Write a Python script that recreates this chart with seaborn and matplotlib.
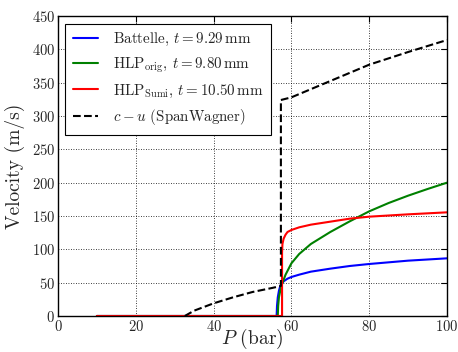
import matplotlib

matplotlib.use("Agg")
import matplotlib.pyplot as plt
import seaborn as sns

# Battelle
p_battelle = [10, 56.2, 56.3, 56.5, 56.8, 57.2, 58, 59, 60, 62, 65, 70, 75, 80, 90, 100]
v_battelle = [0, 0, 15, 28, 38, 46, 52, 56, 58.5, 62, 66.5, 71, 75, 78, 83, 86.5]

# HLP orig
p_orig = [10, 56.5, 56.6, 56.8, 57.2, 57.6, 58.5, 60, 62, 65, 70, 75, 80, 85, 90, 95, 100]
v_orig = [0, 0, 15, 28, 40, 48, 62, 79, 93, 108, 126, 142, 157, 169.5, 180.5, 190.5, 200]

# HLP Sumi
p_sumi = [10, 57.6, 57.6, 57.7, 58, 58.5, 59, 60, 62, 65, 70, 75, 80, 90, 100]
v_sumi = [0, 0, 95, 108, 116, 122, 126, 129, 133, 137, 141.5, 146, 149, 152.5, 155.5]

# c - u (SpanWagner)
p_cu = [32.6, 35, 40, 45, 50, 55, 57.3, 57.3, 60, 70, 80, 90, 100]
v_cu = [0, 8, 19, 28, 36, 42, 45, 324, 328, 352.5, 377, 396, 414]

series = [
    (p_battelle, v_battelle, r"Battelle, $t = 9.29\,\mathrm{mm}$", "b", "-"),
    (p_orig, v_orig, r"HLP$_\mathrm{orig}$, $t = 9.80\,\mathrm{mm}$", "g", "-"),
    (p_sumi, v_sumi, r"HLP$_\mathrm{Sumi}$, $t = 10.50\,\mathrm{mm}$", "r", "-"),
    (p_cu, v_cu, r"$c - u$ (SpanWagner)", "k", "--"),
]

sns.set_style("white")
plt.rcParams["font.family"] = ["cmr10"]
plt.rcParams["mathtext.fontset"] = "cm"
plt.rcParams["axes.unicode_minus"] = False
plt.rcParams["axes.formatter.use_mathtext"] = True

fig = plt.figure(figsize=(4.58, 3.52), dpi=100)
ax = fig.add_axes([0.1266, 0.1023, 0.8494, 0.8522])

for p, v, label, color, ls in series:
    sns.lineplot(x=p, y=v, ax=ax, color=color, linestyle=ls, linewidth=1.5,
                 label=label, estimator=None, sort=False)

ax.set_xlim(0, 100)
ax.set_ylim(0, 450)
ax.set_xticks(range(0, 101, 20))
ax.set_yticks(range(0, 451, 50))
ax.grid(True, linestyle=(0, (1, 2)), color="k", linewidth=0.6)
ax.tick_params(direction="in", top=True, right=True, labelsize=10.5,
               length=4, width=0.8, color="k", pad=2)
for s in ax.spines.values():
    s.set_color("k")
    s.set_linewidth(1.0)
ax.set_xlabel(r"$P$ (bar)", fontsize=14, labelpad=-5)
ax.set_ylabel("Velocity (m/s)", fontsize=14, labelpad=5)

leg = ax.legend(loc="upper left", fontsize=10.8, fancybox=False, framealpha=1,
                edgecolor="k", handlelength=1.7, handletextpad=1.0,
                borderpad=0.5, labelspacing=0.5, borderaxespad=0.5)
leg.get_frame().set_linewidth(0.8)

fig.savefig("out.png", dpi=100)
plt.close(fig)
